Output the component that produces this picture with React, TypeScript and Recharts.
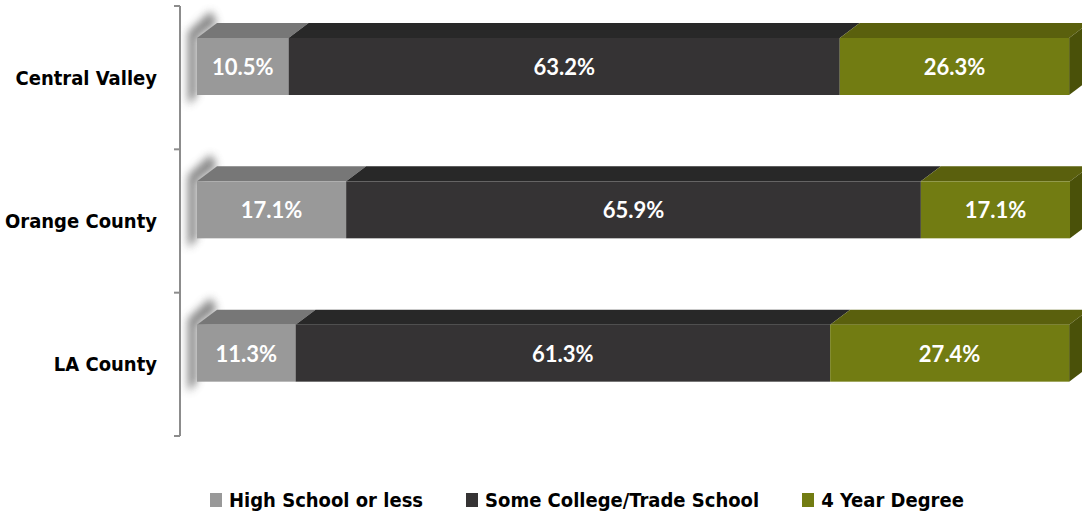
import { Bar, BarChart, Legend, XAxis, YAxis } from 'recharts';

const categories = ['Central Valley', 'Orange County', 'LA County'];
const highSchool = [10.5, 17.1, 11.3];
const someCollege = [63.2, 65.9, 61.3];
const fourYear = [26.3, 17.1, 27.4];
const seriesNames = ['High School or less', 'Some College/Trade School', '4 Year Degree'];

const data = categories.map((name, i) => ({
  name,
  hs: highSchool[i],
  sc: someCollege[i],
  deg: fourYear[i],
}));

const COLORS = {
  hs: { front: '#999999', top: '#777777', side: '#666666' },
  sc: { front: '#353334', top: '#282828', side: '#1f1f1f' },
  deg: { front: '#727c12', top: '#5a600d', side: '#4a5109' },
};

const AXIS = '#8c8c8c';
const DX = 20; // depth of the 3d faces
const DY = 15;
const LIFT = 11; // bars sit a bit above the band centre

const makeShape = (key, c, opts = { side: false, shadow: false }) => (props) => {
  const { x, width, height, payload } = props;
  const y = props.y - LIFT;
  const h = height;
  return (
    <g>
      {opts.shadow && (
        <>
          <defs>
            <filter id="bar-shadow" x="-2" y="-1" width="5" height="3">
              <feGaussianBlur stdDeviation="4" />
            </filter>
          </defs>
          <polygon
            points={`${x - 9},${y + h + 10} ${x - 9},${y - 6} ${x + DX - 6},${y - DY - 12} ${x + DX},${y - DY} ${x},${y} ${x},${y + h}`}
            fill="#707070"
            opacity={0.85}
            filter="url(#bar-shadow)"
          />
        </>
      )}
      <polygon
        points={`${x},${y} ${x + DX},${y - DY} ${x + width + DX},${y - DY} ${x + width},${y}`}
        fill={c.top}
      />
      {opts.side && (
        <polygon
          points={`${x + width},${y} ${x + width + DX},${y - DY} ${x + width + DX},${y + h - DY} ${x + width},${y + h}`}
          fill={c.side}
        />
      )}
      <rect x={x} y={y} width={width} height={h} fill={c.front} />
      <text
        x={x + width / 2}
        y={y + h / 2}
        textAnchor="middle"
        dominantBaseline="central"
        fill="#ffffff"
        fontFamily="Lato"
        fontWeight={700}
        fontSize={22}
      >
        {`${payload[key].toFixed(1)}%`}
      </text>
    </g>
  );
};

const CategoryTick = (props) => {
  const { x, y, payload, index, visibleTicksCount } = props;
  const axisX = x + 23;
  const half = payload.offset || 71.7;
  return (
    <g>
      <line x1={axisX - 6} x2={axisX} y1={y - half} y2={y - half} stroke={AXIS} strokeWidth={2} />
      {index === visibleTicksCount - 1 && (
        <line x1={axisX - 6} x2={axisX} y1={y + half} y2={y + half} stroke={AXIS} strokeWidth={2} />
      )}
      <text
        x={x}
        y={y}
        textAnchor="end"
        dominantBaseline="central"
        fill="#000"
        fontFamily="'DejaVu Sans Condensed', 'DejaVu Sans'"
        fontStretch="condensed"
        fontWeight={700}
        fontSize={20}
      >
        {payload.value}
      </text>
    </g>
  );
};

const renderLegend = () => {
  const swatches = [COLORS.hs.front, COLORS.sc.front, COLORS.deg.front];
  return (
    <div style={{ display: 'flex', paddingLeft: 210, fontFamily: "'DejaVu Sans Condensed', 'DejaVu Sans'", fontStretch: 'condensed', fontWeight: 700, fontSize: 20 }}>
      {seriesNames.map((name, i) => (
        <div key={name} style={{ display: 'flex', alignItems: 'center', marginRight: 43 }}>
          <span style={{ width: 12, height: 14, background: swatches[i], marginRight: 7, display: 'inline-block' }} />
          <span>{name}</span>
        </div>
      ))}
    </div>
  );
};

const App = () => (
  <div style={{ position: 'absolute', left: 0, top: 0 }}>
    <BarChart
      width={1082}
      height={519}
      data={data}
      layout="vertical"
      margin={{ top: 6, right: 12, bottom: 83, left: 0 }}
      barSize={57}
    >
      <XAxis type="number" domain={[0, 100]} hide padding={{ left: 17, right: 0 }} />
      <YAxis
        type="category"
        dataKey="name"
        width={180}
        axisLine={{ stroke: AXIS, strokeWidth: 2 }}
        tickLine={false}
        tickSize={6}
        tickMargin={17}
        tick={<CategoryTick />}
      />
      <Legend
        verticalAlign="middle"
        align="center"
        layout="horizontal"
        content={renderLegend}
        wrapperStyle={{ top: 488, left: 0, width: 1082 }}
      />
      <Bar dataKey="hs" stackId="a" fill={COLORS.hs.front} isAnimationActive={false} shape={makeShape('hs', COLORS.hs, { side: false, shadow: true })} />
      <Bar dataKey="sc" stackId="a" fill={COLORS.sc.front} isAnimationActive={false} shape={makeShape('sc', COLORS.sc)} />
      <Bar dataKey="deg" stackId="a" fill={COLORS.deg.front} isAnimationActive={false} shape={makeShape('deg', COLORS.deg, { side: true, shadow: false })} />
    </BarChart>
  </div>
);

export default App;
